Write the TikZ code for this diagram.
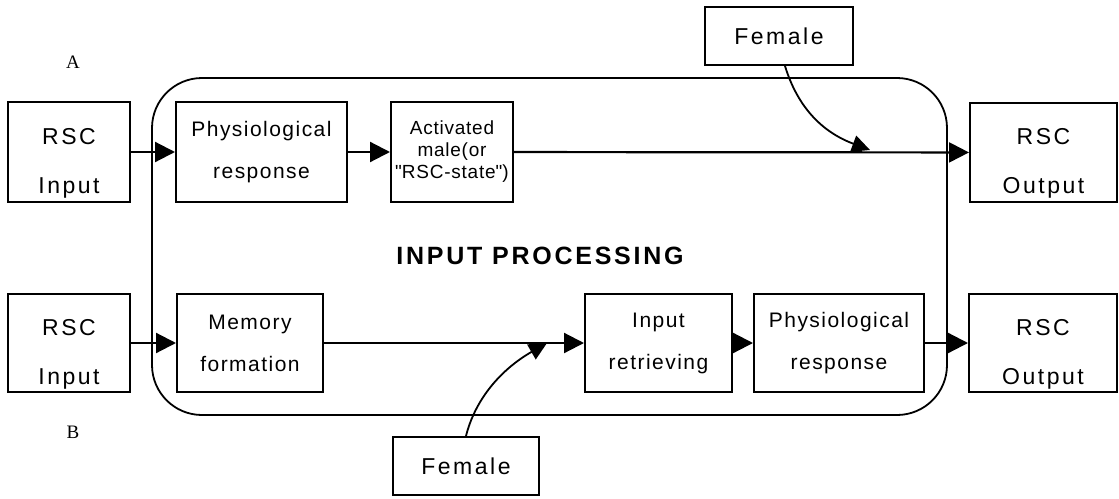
\documentclass[tikz,border=0pt]{standalone}
\usepackage{fontspec}
\setmainfont{Liberation Sans}
\newfontfamily\letterfont{Liberation Serif}
\usetikzlibrary{arrows.meta}
\newcommand{\boxpad}{\rule{0pt}{38pt}}

\tikzset{
    box/.style={draw, line width=2pt, align=center, inner sep=0pt,
        font=\fontsize{21}{21}\selectfont\addfontfeature{LetterSpace=7}},
    iobox/.style={box, font=\fontsize{23}{23}\selectfont\addfontfeature{LetterSpace=11}},
    flow/.style={line width=2.2pt, -{Triangle[length=20pt,width=20pt]}},
    cue/.style={line width=1.8pt, -{Triangle[length=18pt,width=17pt]}},
}

\begin{document}
\begin{tikzpicture}[x=1pt, y=-1pt]
    \useasboundingbox (0,0) rectangle (1119,498);

    \draw [line width=1.8pt, rounded corners=50pt] (152,78) rectangle (947,415);
    \node (proc) at (540,256) {\fontsize{25}{25}\selectfont\addfontfeature{LetterSpace=11}\bfseries INPUT PROCESSING};
    \node (labA) at (73,62) {\letterfont\fontsize{19}{19}\selectfont A};
    \node (labB) at (73,432) {\letterfont\fontsize{19}{19}\selectfont B};

    % A
    \node [iobox, minimum width=122pt, minimum height=100pt] (inA) at (69,152) {\boxpad RSC\\[26pt]Input};
    \node [box, minimum width=171pt, minimum height=100pt] (physA) at (261.5,152) {Physiological\\[21pt]response};
    \node [box, minimum width=122pt, minimum height=100pt,
        font=\fontsize{19}{22}\selectfont\addfontfeature{LetterSpace=4}] (actA) at (452,152)
        {Activated\\male(or\\\textquotedbl RSC-state\textquotedbl)};
    \node [iobox, minimum width=147pt, minimum height=99pt] (outA) at (1043.5,152.5) {\boxpad RSC\\[26pt]Output};
    \node [iobox, minimum width=148pt, minimum height=58pt] (femA) at (779,36) {Female};
    \coordinate (tipA) at (870,150);

    \draw [flow] (inA) -- (physA);
    \draw [flow] (physA) -- (actA);
    \draw [flow] (actA) -- (outA);
    \draw [cue] ([xshift=6pt]femA.south) .. controls (800,115) and (830,135) .. (tipA);

    % B
    \node [iobox, minimum width=122pt, minimum height=98pt] (inB) at (69,343) {\boxpad RSC\\[26pt]Input};
    \node [box, minimum width=146pt, minimum height=98pt] (memB) at (250,343) {Memory\\[21pt]formation};
    \node [box, minimum width=147pt, minimum height=98pt] (retB) at (658.5,343) {Input\\[21pt]retrieving};
    \node [box, minimum width=170pt, minimum height=98pt] (physB) at (839,343) {Physiological\\[21pt]response};
    \node [iobox, minimum width=148pt, minimum height=98pt] (outB) at (1043,343) {\boxpad RSC\\[26pt]Output};
    \node [iobox, minimum width=146pt, minimum height=58pt] (femB) at (466,466) {Female};
    \coordinate (tipB) at (547,343);

    \draw [flow] (inB) -- (memB);
    \draw [flow] (memB) -- (retB);
    \draw [flow] (retB) -- (physB);
    \draw [flow] (physB) -- (outB);
    \draw [cue] (femB.north) .. controls (475,400) and (500,370) .. (tipB);
\end{tikzpicture}
\end{document}
